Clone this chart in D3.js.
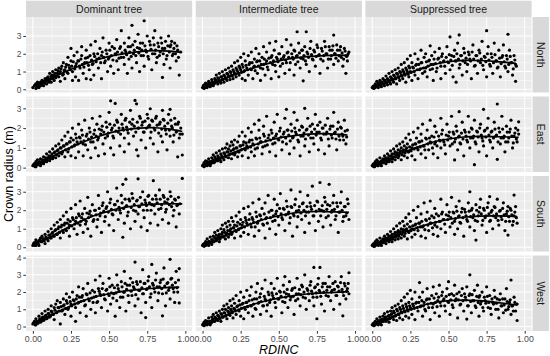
<!DOCTYPE html>
<html>
<head>
<meta charset="utf-8">
<script src="https://cdn.jsdelivr.net/npm/d3@7"></script>
<style>
  body { margin: 0; background: #fff; }
  svg { display: block; font-family: "Liberation Sans", Arial, sans-serif; }
</style>
</head>
<body>
<div class="canvas"></div>
<script>
const colNames = ["Dominant tree", "Intermediate tree", "Suppressed tree"];
const rowNames = ["North", "East", "South", "West"];
const xTicks = [0, 0.25, 0.5, 0.75, 1];
const yTicks = [[0, 1, 2, 3], [0, 1, 2, 3], [0, 1, 2, 3], [0, 1, 2, 3, 4]];
const yLimits = [[-0.18, 4.07], [-0.22, 3.6], [-0.23, 3.85], [-0.26, 4.12]];

// crown radius vs RDINC, one list per panel (scattered trees)
const domNorth = [[.0,.1],[.01,.2],[.02,.05],[.02,.3],[.03,.15],[.03,.4],[.04,.1],[.04,.25],[.05,.4],[.05,.2],[.06,.3],[.06,.5],[.07,.2],[.07,.45],[.08,.35],[.08,.6],[.09,.5],[.09,.3],[.1,.7],[.1,.45],[.11,.55],[.11,.9],[.12,.4],[.12,.75],[.13,.6],[.13,1.0],[.14,.8],[.14,.5],[.15,1.1],[.15,.65],[.16,.9],[.17,.7],[.17,1.2],[.18,1.0],[.18,.45],[.19,1.3],[.2,.85],[.2,1.5],[.21,1.1],[.21,.6],[.22,1.4],[.23,.9],[.23,1.8],[.24,1.2],[.25,2.3],[.25,1.6],[.26,1.0],[.26,.5],[.27,1.9],[.28,1.3],[.28,.7],[.29,2.1],[.3,1.6],[.3,.5],[.31,1.2],[.32,1.9],[.32,2.4],[.33,.9],[.34,1.5],[.35,2.2],[.35,.6],[.36,1.8],[.37,1.1],[.38,2.5],[.38,.55],[.39,1.4],[.4,2.0],[.4,.8],[.41,2.7],[.42,1.7],[.43,1.2],[.44,2.3],[.45,.6],[.45,1.9],[.46,2.9],[.47,1.5],[.48,2.2],[.49,1.0],[.5,2.6],[.5,1.8],[.51,1.3],[.52,2.4],[.53,.9],[.54,2.0],[.55,2.8],[.55,1.6],[.56,1.1],[.57,2.3],[.58,3.3],[.58,1.8],[.6,2.6],[.6,1.4],[.61,2.1],[.62,.9],[.63,2.9],[.63,1.7],[.64,2.4],[.65,3.6],[.65,1.2],[.66,2.0],[.67,2.7],[.68,1.5],[.69,3.1],[.7,2.3],[.7,1.0],[.71,1.9],[.72,2.6],[.73,3.86],[.73,1.3],[.74,2.2],[.75,3.0],[.76,1.7],[.77,2.5],[.78,1.1],[.79,2.9],[.8,2.0],[.8,3.3],[.81,1.5],[.82,2.6],[.83,1.9],[.84,2.9],[.85,.67],[.85,2.3],[.86,1.4],[.87,2.7],[.88,1.9],[.89,3.0],[.9,2.4],[.9,1.2],[.91,2.7],[.92,2.0],[.93,2.6],[.94,1.6],[.95,2.2],[.96,.8],[.97,2.1]];
const intNorth = [[.0,.1],[.01,.05],[.01,.25],[.02,.15],[.02,.35],[.03,.1],[.03,.3],[.04,.2],[.04,.45],[.05,.15],[.05,.35],[.06,.25],[.06,.55],[.07,.4],[.07,.2],[.08,.6],[.08,.35],[.09,.5],[.09,.8],[.1,.3],[.1,.65],[.11,.45],[.11,.9],[.12,.7],[.12,.35],[.13,.55],[.13,1.0],[.14,.8],[.14,.4],[.15,1.1],[.15,.65],[.16,.9],[.16,.5],[.17,1.2],[.17,.75],[.18,1.0],[.18,.55],[.19,1.3],[.19,.8],[.2,1.1],[.2,.6],[.21,1.5],[.21,.9],[.22,1.2],[.22,.7],[.23,1.0],[.23,1.6],[.24,1.3],[.24,.8],[.25,1.8],[.25,1.1],[.26,.6],[.26,1.4],[.27,1.0],[.27,2.0],[.28,1.6],[.28,.5],[.29,1.2],[.3,1.9],[.3,.8],[.31,1.5],[.32,1.1],[.32,2.1],[.33,.6],[.34,1.7],[.34,1.3],[.35,2.3],[.36,.9],[.36,1.6],[.37,2.0],[.38,1.2],[.38,.5],[.39,1.8],[.4,2.4],[.4,1.4],[.41,.8],[.42,2.1],[.42,1.6],[.43,1.1],[.44,2.6],[.45,1.8],[.45,.6],[.46,1.4],[.47,2.2],[.48,1.0],[.48,2.7],[.49,1.7],[.5,2.0],[.5,.7],[.51,1.3],[.52,2.4],[.53,1.8],[.54,.9],[.55,2.8],[.55,1.5],[.56,2.1],[.57,1.1],[.58,2.5],[.59,1.8],[.6,.8],[.6,2.2],[.61,1.4],[.62,3.24],[.62,1.9],[.63,2.6],[.64,1.2],[.65,2.2],[.66,.48],[.66,1.7],[.67,2.4],[.68,3.24],[.68,1.4],[.69,2.0],[.7,1.0],[.71,2.7],[.72,1.7],[.73,2.2],[.74,1.3],[.75,2.5],[.76,1.9],[.77,.9],[.78,2.3],[.79,1.6],[.8,2.7],[.81,2.0],[.82,1.2],[.83,2.4],[.84,1.7],[.85,2.2],[.86,3.05],[.86,1.4],[.87,2.0],[.88,2.5],[.89,1.6],[.9,2.2],[.91,1.8],[.92,1.3],[.93,2.3],[.94,.9],[.94,1.9],[.95,1.6],[.96,2.1]];
const supNorth = [[.0,.1],[.01,.2],[.01,.05],[.02,.3],[.02,.1],[.03,.2],[.03,.45],[.04,.1],[.04,.35],[.05,.25],[.05,.5],[.06,.15],[.06,.4],[.07,.6],[.07,.3],[.08,.2],[.08,.5],[.09,.75],[.09,.35],[.1,.6],[.1,.25],[.11,.45],[.11,.9],[.12,.7],[.12,.3],[.13,.55],[.13,1.0],[.14,.8],[.14,.4],[.15,1.1],[.15,.6],[.16,.9],[.16,.3],[.17,1.2],[.17,.7],[.18,1.0],[.18,.5],[.19,1.4],[.19,.8],[.2,1.1],[.2,.6],[.21,1.5],[.21,.9],[.22,1.2],[.22,.4],[.23,1.7],[.23,1.0],[.24,.7],[.24,1.3],[.25,1.9],[.25,1.0],[.26,.5],[.26,1.5],[.27,1.2],[.28,2.0],[.28,.8],[.29,1.4],[.3,1.7],[.3,.6],[.31,1.1],[.32,2.2],[.32,1.5],[.33,.9],[.34,1.8],[.35,1.2],[.35,2.0],[.36,.7],[.37,1.6],[.38,2.45],[.38,1.1],[.39,1.9],[.4,.5],[.4,1.4],[.41,2.1],[.42,1.0],[.43,1.7],[.44,2.3],[.45,.6],[.45,1.3],[.46,2.0],[.47,1.6],[.48,.9],[.49,2.4],[.5,1.5],[.51,2.95],[.51,1.1],[.52,1.9],[.53,.7],[.54,2.2],[.55,.4],[.55,1.6],[.56,2.6],[.57,3.06],[.57,1.2],[.58,1.9],[.59,.8],[.6,2.3],[.61,1.5],[.62,1.0],[.63,2.1],[.64,1.7],[.65,.6],[.66,2.5],[.67,1.3],[.68,1.9],[.69,.9],[.7,2.2],[.71,1.5],[.72,2.7],[.73,1.1],[.74,1.8],[.75,3.3],[.75,.7],[.76,2.4],[.77,1.4],[.78,2.0],[.79,.9],[.8,2.6],[.81,1.6],[.82,1.2],[.83,2.2],[.84,.7],[.85,1.8],[.86,2.5],[.87,1.3],[.88,1.9],[.89,3.1],[.89,1.0],[.9,2.2],[.91,1.5],[.92,.8],[.93,1.9],[.94,.45],[.94,1.4]];
const domEast = [[.0,.1],[.01,.2],[.02,.05],[.02,.3],[.03,.15],[.03,.4],[.04,.25],[.05,.1],[.05,.45],[.06,.3],[.07,.55],[.07,.2],[.08,.4],[.09,.7],[.09,.3],[.1,.5],[.11,.8],[.11,.35],[.12,.6],[.13,.95],[.13,.45],[.14,.75],[.15,1.1],[.15,.5],[.16,.85],[.17,1.2],[.17,.6],[.18,1.0],[.19,.7],[.19,1.4],[.2,1.1],[.21,.55],[.21,1.6],[.22,1.2],[.23,.8],[.23,1.8],[.24,1.3],[.25,.6],[.25,1.5],[.26,2.0],[.27,1.1],[.28,1.7],[.28,.5],[.29,1.3],[.3,2.2],[.3,.8],[.31,1.5],[.32,1.9],[.33,.6],[.33,1.2],[.34,2.4],[.35,1.6],[.36,.9],[.37,2.0],[.38,1.3],[.38,.5],[.39,2.5],[.4,1.7],[.41,1.0],[.42,2.2],[.43,.6],[.43,1.5],[.44,2.6],[.45,1.9],[.46,1.2],[.47,.7],[.48,2.3],[.49,1.6],[.5,2.8],[.51,3.38],[.51,1.0],[.52,2.0],[.53,.65],[.53,1.5],[.54,3.25],[.55,2.4],[.56,1.8],[.57,1.1],[.58,2.7],[.59,2.0],[.6,.8],[.6,1.5],[.61,2.5],[.62,1.9],[.63,1.2],[.64,2.9],[.65,2.2],[.66,1.6],[.67,3.4],[.68,3.23],[.68,.9],[.69,.6],[.69,2.0],[.7,2.6],[.71,1.4],[.72,2.3],[.73,1.8],[.74,1.0],[.75,2.7],[.76,2.1],[.77,2.98],[.77,1.5],[.78,2.4],[.79,1.2],[.8,1.9],[.81,2.6],[.82,.8],[.83,2.2],[.84,1.6],[.85,2.9],[.85,1.3],[.86,2.4],[.87,1.9],[.88,.9],[.89,2.7],[.9,2.95],[.9,1.6],[.91,2.1],[.92,1.3],[.93,2.5],[.94,1.8],[.95,.55],[.95,2.2],[.96,1.5],[.97,2.0],[.98,.64],[.98,1.7]];
const intEast = [[.0,.1],[.01,.05],[.01,.25],[.02,.15],[.02,.35],[.03,.1],[.03,.3],[.04,.2],[.04,.45],[.05,.3],[.05,.1],[.06,.5],[.06,.25],[.07,.4],[.07,.65],[.08,.3],[.08,.55],[.09,.45],[.09,.75],[.1,.35],[.1,.6],[.11,.85],[.11,.5],[.12,.7],[.12,.3],[.13,.95],[.13,.55],[.14,.75],[.14,.4],[.15,1.0],[.15,.6],[.16,.8],[.16,1.2],[.17,.5],[.17,.95],[.18,1.1],[.18,.7],[.19,1.3],[.19,.45],[.2,.9],[.2,1.15],[.21,.65],[.21,1.4],[.22,1.0],[.23,.55],[.23,1.3],[.24,1.6],[.24,.8],[.25,1.1],[.26,1.8],[.26,.6],[.27,1.3],[.28,.9],[.28,1.6],[.29,1.1],[.3,2.0],[.3,.5],[.31,1.4],[.32,.8],[.32,1.8],[.33,1.2],[.34,2.2],[.34,.6],[.35,1.5],[.36,1.0],[.37,1.9],[.37,2.4],[.38,1.3],[.39,.7],[.4,1.7],[.4,2.1],[.41,1.1],[.42,2.6],[.43,1.5],[.44,.8],[.45,1.9],[.46,1.2],[.47,2.3],[.48,.6],[.48,1.6],[.49,2.7],[.5,1.4],[.51,2.0],[.52,.9],[.53,1.7],[.54,2.5],[.55,1.2],[.55,2.95],[.56,1.9],[.57,.7],[.58,2.2],[.59,1.5],[.6,2.8],[.6,1.0],[.61,1.8],[.62,2.4],[.63,1.3],[.64,.6],[.65,2.1],[.66,1.6],[.67,3.0],[.67,1.1],[.68,1.9],[.69,2.5],[.7,.8],[.71,1.5],[.72,2.2],[.73,1.2],[.74,2.7],[.75,1.8],[.76,.9],[.77,2.3],[.78,1.4],[.79,2.0],[.8,.7],[.81,1.7],[.82,2.5],[.83,1.1],[.84,2.1],[.85,1.5],[.86,2.8],[.87,1.8],[.88,.9],[.89,2.3],[.9,1.4],[.91,2.0],[.92,1.6],[.93,2.4],[.94,1.2],[.95,1.9]];
const supEast = [[.0,.1],[.01,.2],[.01,.05],[.02,.3],[.02,.1],[.03,.2],[.03,.4],[.04,.1],[.04,.3],[.05,.5],[.05,.2],[.06,.35],[.06,.1],[.07,.45],[.07,.25],[.08,.6],[.08,.35],[.09,.2],[.09,.5],[.1,.7],[.1,.4],[.11,.3],[.11,.6],[.12,.85],[.12,.45],[.13,.7],[.13,.3],[.14,.95],[.14,.55],[.15,.8],[.15,.4],[.16,1.1],[.16,.65],[.17,.9],[.17,.5],[.18,1.2],[.18,.75],[.19,1.0],[.19,.4],[.2,1.3],[.2,.8],[.21,.6],[.21,1.1],[.22,1.5],[.22,.9],[.23,.5],[.23,1.2],[.24,1.7],[.24,.8],[.25,1.4],[.26,1.0],[.26,.6],[.27,1.8],[.28,1.2],[.28,.4],[.29,1.5],[.3,.9],[.3,2.0],[.31,1.3],[.32,.7],[.32,1.7],[.33,2.2],[.34,1.1],[.35,1.5],[.35,.5],[.36,1.9],[.37,.9],[.38,1.3],[.38,2.4],[.39,1.6],[.4,.7],[.41,2.1],[.41,1.2],[.42,1.8],[.43,.5],[.44,1.4],[.45,2.5],[.45,1.0],[.46,1.9],[.47,1.3],[.48,.7],[.49,2.2],[.5,1.6],[.51,1.1],[.52,2.6],[.53,1.8],[.54,.39],[.54,1.3],[.55,2.1],[.56,.9],[.57,2.83],[.57,1.6],[.58,1.2],[.59,2.3],[.6,.6],[.61,1.8],[.62,1.4],[.63,2.6],[.64,1.0],[.65,2.0],[.66,1.5],[.67,.15],[.67,2.4],[.68,1.2],[.69,1.8],[.7,.8],[.71,2.2],[.72,1.5],[.73,2.95],[.73,1.1],[.74,1.9],[.75,.6],[.76,2.5],[.77,1.4],[.78,1.8],[.79,1.0],[.8,2.3],[.81,1.6],[.82,3.22],[.82,.42],[.83,2.0],[.84,1.2],[.85,2.6],[.86,1.5],[.87,.8],[.88,2.1],[.89,1.3],[.9,1.8],[.91,2.4],[.92,1.0],[.93,1.6],[.94,2.0],[.95,1.3],[.96,2.32],[.96,1.7]];
const domSouth = [[.0,.1],[.01,.25],[.02,.1],[.02,.4],[.03,.2],[.04,.35],[.04,.1],[.05,.5],[.06,.3],[.06,.6],[.07,.45],[.08,.2],[.08,.7],[.09,.5],[.1,.85],[.1,.35],[.11,.65],[.12,1.0],[.12,.5],[.13,.8],[.14,1.2],[.14,.6],[.15,.95],[.16,1.35],[.16,.7],[.17,1.1],[.18,.5],[.18,1.5],[.19,1.2],[.2,.8],[.2,1.7],[.21,1.3],[.22,.9],[.22,1.9],[.23,1.5],[.24,.6],[.24,1.2],[.25,2.1],[.26,1.6],[.27,1.0],[.28,2.3],[.28,1.4],[.29,.7],[.3,1.8],[.31,2.5],[.31,1.2],[.32,1.6],[.33,.8],[.34,2.1],[.35,1.4],[.36,2.7],[.36,1.0],[.37,1.8],[.38,.6],[.39,2.3],[.4,1.5],[.41,2.0],[.42,1.1],[.43,2.8],[.44,1.7],[.45,.8],[.46,2.4],[.47,1.4],[.48,2.1],[.49,3.0],[.5,1.2],[.51,2.6],[.52,1.8],[.53,.9],[.54,2.3],[.55,3.2],[.56,1.5],[.57,2.0],[.58,2.8],[.59,.54],[.59,3.4],[.6,1.3],[.61,3.68],[.61,2.2],[.62,1.7],[.63,2.6],[.64,1.0],[.65,2.9],[.66,2.0],[.67,1.4],[.68,2.5],[.69,3.7],[.69,1.8],[.7,2.2],[.71,1.1],[.72,3.0],[.73,1.6],[.74,2.4],[.75,.9],[.75,2.0],[.76,2.8],[.77,1.3],[.78,2.3],[.79,3.6],[.8,1.8],[.81,2.6],[.82,1.2],[.83,3.1],[.84,2.1],[.85,1.5],[.86,2.7],[.87,1.9],[.88,2.4],[.89,1.3],[.9,3.0],[.91,2.2],[.92,1.7],[.93,2.6],[.94,1.1],[.95,2.3],[.96,1.8],[.98,3.72]];
const intSouth = [[.0,.1],[.01,.2],[.01,.05],[.02,.3],[.02,.1],[.03,.2],[.03,.45],[.04,.3],[.04,.1],[.05,.55],[.05,.25],[.06,.4],[.06,.15],[.07,.6],[.07,.3],[.08,.5],[.08,.8],[.09,.35],[.09,.65],[.1,.9],[.1,.5],[.11,.7],[.11,.3],[.12,1.0],[.12,.55],[.13,.8],[.13,1.2],[.14,.6],[.14,.95],[.15,1.3],[.15,.45],[.16,1.1],[.16,.75],[.17,1.4],[.17,.55],[.18,.9],[.18,1.2],[.19,1.6],[.19,.7],[.2,1.05],[.2,1.4],[.21,.5],[.21,1.2],[.22,1.7],[.22,.85],[.23,1.35],[.24,1.0],[.24,1.9],[.25,.6],[.25,1.5],[.26,1.2],[.27,2.1],[.27,.8],[.28,1.6],[.29,1.3],[.3,2.2],[.3,.7],[.31,1.8],[.32,1.1],[.33,2.4],[.33,1.5],[.34,.6],[.35,1.9],[.36,1.3],[.37,2.6],[.37,.9],[.38,1.7],[.39,2.1],[.4,1.2],[.41,.5],[.41,2.4],[.42,1.6],[.43,2.8],[.44,1.0],[.45,2.0],[.46,1.4],[.47,2.6],[.48,.7],[.48,1.8],[.49,2.3],[.5,1.2],[.51,2.9],[.52,1.6],[.53,2.1],[.54,.9],[.55,2.5],[.56,1.8],[.57,1.3],[.58,3.1],[.58,2.2],[.59,.6],[.6,1.7],[.61,2.6],[.62,1.1],[.63,2.0],[.64,3.0],[.65,1.5],[.66,2.4],[.67,.8],[.68,1.9],[.69,2.8],[.7,1.3],[.71,2.2],[.72,3.3],[.73,1.7],[.74,.9],[.75,2.5],[.76,1.4],[.77,3.5],[.78,2.0],[.79,1.1],[.8,2.7],[.81,1.6],[.82,2.3],[.83,3.4],[.84,1.2],[.85,2.0],[.86,2.8],[.87,1.5],[.88,2.4],[.89,.8],[.9,1.9],[.91,3.0],[.92,1.4],[.93,2.2],[.94,1.7],[.95,2.6],[.96,1.5]];
const supSouth = [[.0,.1],[.01,.2],[.01,.05],[.02,.3],[.02,.1],[.03,.2],[.03,.4],[.04,.1],[.04,.3],[.05,.5],[.05,.2],[.06,.35],[.06,.1],[.07,.45],[.07,.25],[.08,.6],[.08,.35],[.09,.2],[.09,.5],[.1,.7],[.1,.4],[.11,.3],[.11,.6],[.12,.85],[.12,.45],[.13,.7],[.13,.3],[.14,1.0],[.14,.55],[.15,.8],[.15,.4],[.16,1.15],[.16,.65],[.17,.9],[.17,.45],[.18,1.3],[.18,.75],[.19,1.0],[.19,.5],[.2,1.4],[.2,.85],[.21,.6],[.21,1.15],[.22,1.6],[.22,.9],[.23,.45],[.23,1.25],[.24,1.8],[.24,.8],[.25,1.4],[.26,1.0],[.26,.55],[.27,2.0],[.28,1.2],[.28,.7],[.29,1.6],[.3,.9],[.3,2.2],[.31,1.3],[.32,.6],[.32,1.8],[.33,1.1],[.34,2.4],[.35,1.5],[.35,.5],[.36,1.9],[.37,.9],[.38,1.3],[.38,2.5],[.39,1.7],[.4,.7],[.41,2.1],[.41,1.2],[.42,1.8],[.43,.6],[.44,1.4],[.45,2.6],[.45,1.0],[.46,1.9],[.47,1.5],[.48,.8],[.49,2.3],[.5,1.7],[.51,1.1],[.52,2.7],[.53,1.9],[.54,.7],[.54,1.4],[.55,2.2],[.56,1.0],[.57,2.5],[.57,1.7],[.58,1.3],[.59,2.1],[.6,.6],[.61,1.9],[.62,1.5],[.63,2.4],[.64,3.0],[.64,1.1],[.65,2.0],[.66,1.6],[.67,.9],[.68,.39],[.68,2.3],[.69,1.4],[.7,1.9],[.71,2.6],[.72,1.2],[.73,2.1],[.74,1.6],[.75,.8],[.76,2.4],[.77,2.74],[.77,1.4],[.78,1.9],[.79,1.0],[.8,2.2],[.81,1.6],[.82,2.6],[.83,1.2],[.84,2.0],[.85,1.5],[.86,2.4],[.87,.9],[.88,1.8],[.89,.66],[.89,2.2],[.9,1.4],[.91,2.0],[.92,1.2],[.93,2.82],[.93,1.7],[.94,2.2],[.95,1.3]];
const domWest = [[.0,.15],[.01,.3],[.02,.1],[.02,.45],[.03,.2],[.04,.35],[.04,.6],[.05,.25],[.06,.5],[.06,.75],[.07,.35],[.08,.6],[.08,.9],[.09,.45],[.1,.75],[.1,1.0],[.11,.55],[.12,.9],[.12,1.2],[.13,.7],[.14,1.1],[.14,.4],[.15,1.3],[.16,.85],[.16,1.5],[.17,1.1],[.18,.15],[.18,1.4],[.19,.9],[.2,1.6],[.2,1.2],[.21,.7],[.22,1.5],[.22,1.9],[.23,1.0],[.24,1.7],[.25,1.3],[.25,.6],[.26,2.0],[.27,1.5],[.28,.3],[.28,1.1],[.29,1.8],[.3,2.3],[.3,1.4],[.31,.8],[.32,1.7],[.33,2.2],[.34,1.2],[.35,1.9],[.35,.6],[.36,2.5],[.37,1.5],[.38,1.0],[.39,2.1],[.4,1.7],[.41,2.7],[.41,.8],[.42,1.4],[.43,2.2],[.44,2.93],[.44,1.9],[.45,1.1],[.46,2.5],[.47,1.6],[.48,2.1],[.49,.9],[.5,2.8],[.5,1.8],[.51,1.3],[.52,2.4],[.53,1.9],[.54,.6],[.55,3.0],[.55,1.5],[.56,2.2],[.57,1.1],[.58,2.6],[.59,1.7],[.6,3.2],[.6,2.0],[.61,.9],[.62,2.4],[.63,1.4],[.64,2.8],[.65,1.8],[.66,2.3],[.67,3.74],[.67,1.2],[.68,2.6],[.69,1.6],[.7,2.1],[.71,.8],[.72,3.3],[.72,1.9],[.73,2.5],[.74,.52],[.74,1.4],[.75,2.2],[.76,2.9],[.77,1.7],[.78,3.6],[.78,1.1],[.79,2.4],[.8,2.0],[.81,3.1],[.82,1.5],[.83,2.3],[.84,2.7],[.85,.62],[.85,1.9],[.86,3.4],[.87,1.2],[.88,2.5],[.89,2.1],[.9,3.9],[.9,1.6],[.91,2.8],[.92,2.2],[.93,1.4],[.94,3.2],[.95,2.0],[.96,3.36],[.96,1.37]];
const intWest = [[.0,.1],[.01,.05],[.01,.25],[.02,.15],[.02,.35],[.03,.1],[.03,.3],[.04,.2],[.04,.5],[.05,.3],[.05,.1],[.06,.55],[.06,.25],[.07,.4],[.07,.7],[.08,.3],[.08,.55],[.09,.45],[.09,.8],[.1,.35],[.1,.65],[.11,.9],[.11,.5],[.12,.75],[.12,.3],[.13,1.0],[.13,.55],[.14,.8],[.14,1.2],[.15,.6],[.15,1.0],[.16,1.3],[.16,.45],[.17,.85],[.17,1.1],[.18,1.5],[.18,.65],[.19,1.2],[.19,.9],[.2,1.6],[.2,.5],[.21,1.0],[.21,1.35],[.22,1.8],[.22,.7],[.23,1.2],[.24,1.5],[.24,.9],[.25,2.0],[.25,.6],[.26,1.3],[.27,1.7],[.27,.45],[.28,1.0],[.29,2.1],[.29,1.4],[.3,.8],[.31,1.8],[.32,1.2],[.32,2.3],[.33,.6],[.34,1.6],[.35,2.0],[.35,1.0],[.36,2.5],[.37,1.4],[.38,.7],[.38,1.9],[.39,2.2],[.4,1.2],[.41,2.7],[.41,1.6],[.42,.9],[.43,2.0],[.44,1.4],[.45,2.5],[.45,.6],[.46,1.8],[.47,2.2],[.48,1.1],[.49,2.8],[.5,1.6],[.51,2.0],[.52,.8],[.53,2.4],[.54,2.9],[.54,1.4],[.55,1.9],[.56,1.1],[.57,2.6],[.58,1.7],[.59,2.2],[.6,.7],[.61,1.5],[.62,2.8],[.63,1.9],[.64,1.2],[.65,2.4],[.66,1.7],[.67,3.0],[.68,1.0],[.69,2.1],[.7,1.5],[.71,2.6],[.72,1.9],[.73,3.43],[.73,1.2],[.74,2.3],[.75,.45],[.75,1.7],[.76,2.8],[.77,3.43],[.77,2.0],[.78,1.3],[.79,2.5],[.8,.9],[.81,1.8],[.82,2.3],[.83,2.9],[.84,1.5],[.85,2.1],[.86,1.0],[.87,2.6],[.88,1.8],[.89,2.3],[.9,1.3],[.91,2.9],[.92,.62],[.92,2.0],[.93,2.5],[.94,1.6],[.95,2.2],[.96,3.12],[.96,1.9]];
const supWest = [[.0,.1],[.01,.2],[.01,.05],[.02,.3],[.02,.1],[.03,.2],[.03,.45],[.04,.1],[.04,.3],[.05,.55],[.05,.2],[.06,.4],[.06,.1],[.07,.6],[.07,.3],[.08,.45],[.08,.75],[.09,.3],[.09,.55],[.1,.85],[.1,.4],[.11,.65],[.11,.25],[.12,.9],[.12,.5],[.13,.75],[.13,1.1],[.14,.4],[.14,.9],[.15,1.2],[.15,.6],[.16,1.0],[.16,.35],[.17,1.3],[.17,.7],[.18,1.1],[.18,.5],[.19,1.5],[.19,.85],[.2,1.2],[.2,.4],[.21,1.7],[.21,.9],[.22,1.3],[.22,.6],[.23,1.9],[.23,1.0],[.24,1.4],[.24,.5],[.25,2.1],[.25,1.1],[.26,.7],[.26,1.6],[.27,1.2],[.28,2.0],[.28,.4],[.29,1.4],[.3,.9],[.31,2.55],[.31,1.7],[.32,1.2],[.33,.6],[.33,2.0],[.34,1.4],[.35,.9],[.36,2.2],[.36,1.6],[.37,1.1],[.38,.4],[.39,1.8],[.4,2.3],[.4,1.3],[.41,.8],[.42,1.9],[.43,1.5],[.44,2.4],[.44,.6],[.45,1.2],[.46,2.0],[.47,1.6],[.48,.9],[.49,2.2],[.5,2.6],[.5,1.4],[.51,.7],[.52,1.9],[.53,1.1],[.54,2.4],[.55,1.6],[.56,.5],[.57,2.0],[.58,1.3],[.59,2.2],[.6,.9],[.61,1.7],[.62,.43],[.62,2.3],[.63,1.2],[.64,3.0],[.64,1.9],[.65,.8],[.66,1.5],[.67,2.1],[.68,1.1],[.69,2.4],[.7,.6],[.7,1.7],[.71,1.3],[.72,2.0],[.73,.9],[.74,1.5],[.75,2.3],[.76,1.1],[.77,1.8],[.78,.7],[.79,1.4],[.8,2.1],[.81,1.0],[.82,1.6],[.83,.5],[.84,1.9],[.85,1.2],[.86,.8],[.87,1.6],[.88,2.2],[.89,1.0],[.9,1.4],[.91,2.7],[.91,.7],[.92,1.2],[.93,1.7],[.94,.9],[.95,.35],[.95,1.3]];

// trees in the dense band around the fitted curve
const domNorthCore = [[.015,.25],[.025,.1],[.035,.35],[.045,.2],[.055,.3],[.065,.45],[.075,.35],[.085,.5],[.095,.65],[.105,.4],[.115,.6],[.125,.8],[.135,.7],[.145,.9],[.155,.75],[.165,1.05],[.175,.9],[.185,1.15],[.195,.8],[.205,1.05],[.215,1.25],[.225,.95],[.235,1.35],[.245,1.1],[.255,1.3],[.265,1.55],[.275,1.15],[.285,1.45],[.295,1.6],[.305,1.3],[.315,1.7],[.325,1.4],[.335,1.25],[.345,1.75],[.355,1.5],[.365,1.35],[.375,1.9],[.385,1.65],[.395,1.45],[.405,1.85],[.415,1.55],[.425,2.0],[.435,1.75],[.445,1.5],[.455,2.1],[.465,1.8],[.475,1.6],[.485,2.0],[.495,1.7],[.505,2.2],[.515,1.9],[.525,1.65],[.535,2.3],[.545,1.95],[.555,2.1],[.565,1.75],[.575,2.4],[.585,2.05],[.595,1.8],[.605,2.2],[.615,1.95],[.625,2.4],[.635,2.1],[.645,1.85],[.655,2.5],[.665,2.2],[.675,1.9],[.685,2.35],[.695,2.05],[.705,2.6],[.715,2.2],[.725,1.9],[.735,2.45],[.745,2.1],[.755,1.85],[.765,2.7],[.775,2.25],[.785,2.0],[.795,2.5],[.805,2.2],[.815,1.8],[.825,2.4],[.835,2.1],[.845,2.6],[.855,2.0],[.865,2.3],[.875,1.7],[.885,2.45],[.895,2.1],[.905,2.5],[.915,1.9],[.925,2.3],[.935,2.0],[.945,2.45],[.955,1.8]];
const intNorthCore = [[.005,.2],[.015,.1],[.025,.3],[.035,.2],[.045,.35],[.055,.25],[.065,.4],[.075,.3],[.085,.5],[.095,.4],[.105,.6],[.115,.45],[.125,.7],[.135,.55],[.145,.75],[.155,.6],[.165,.85],[.175,.7],[.185,.95],[.195,.75],[.205,1.0],[.215,.85],[.225,1.1],[.235,.9],[.245,1.2],[.255,.95],[.265,1.25],[.275,1.05],[.285,1.35],[.295,1.1],[.305,1.4],[.315,1.15],[.325,1.5],[.335,1.25],[.345,1.05],[.355,1.55],[.365,1.3],[.375,1.6],[.385,1.4],[.395,1.15],[.405,1.7],[.415,1.45],[.425,1.25],[.435,1.75],[.445,1.5],[.455,1.9],[.465,1.6],[.475,1.35],[.485,1.8],[.495,1.55],[.505,2.0],[.515,1.7],[.525,1.45],[.535,1.9],[.545,1.65],[.555,2.05],[.565,1.8],[.575,1.5],[.585,2.0],[.595,1.7],[.605,2.15],[.615,1.85],[.625,1.55],[.635,2.05],[.645,1.75],[.655,2.2],[.665,1.9],[.675,1.6],[.685,2.1],[.695,1.8],[.705,2.3],[.715,1.95],[.725,1.65],[.735,2.1],[.745,1.85],[.755,2.35],[.765,1.95],[.775,1.7],[.785,2.15],[.795,1.9],[.805,2.4],[.815,2.0],[.825,1.7],[.835,2.2],[.845,1.9],[.855,2.45],[.865,2.0],[.875,1.75],[.885,2.2],[.895,1.9],[.905,2.4],[.915,2.05],[.925,1.7],[.935,2.15],[.945,1.85],[.955,2.0]];
const supNorthCore = [[.005,.15],[.015,.1],[.025,.25],[.035,.15],[.045,.3],[.055,.2],[.065,.4],[.075,.3],[.085,.5],[.095,.35],[.105,.55],[.115,.4],[.125,.65],[.135,.5],[.145,.75],[.155,.6],[.165,.85],[.175,.65],[.185,.95],[.195,.75],[.205,1.0],[.215,.8],[.225,1.1],[.235,.85],[.245,1.2],[.255,.95],[.265,1.25],[.275,1.0],[.285,1.35],[.295,1.1],[.305,1.4],[.315,1.15],[.325,1.5],[.335,1.2],[.345,1.0],[.355,1.55],[.365,1.3],[.375,1.65],[.385,1.4],[.395,1.15],[.405,1.7],[.415,1.45],[.425,1.2],[.435,1.75],[.445,1.5],[.455,1.85],[.465,1.55],[.475,1.3],[.485,1.8],[.495,1.55],[.505,1.95],[.515,1.65],[.525,1.35],[.535,1.85],[.545,1.6],[.555,2.0],[.565,1.7],[.575,1.4],[.585,1.9],[.595,1.6],[.605,2.05],[.615,1.75],[.625,1.4],[.635,1.95],[.645,1.6],[.655,2.1],[.665,1.7],[.675,1.35],[.685,1.9],[.695,1.6],[.705,2.05],[.715,1.7],[.725,1.35],[.735,1.85],[.745,1.55],[.755,2.0],[.765,1.65],[.775,1.3],[.785,1.8],[.795,1.5],[.805,1.95],[.815,1.6],[.825,1.25],[.835,1.75],[.845,1.45],[.855,1.9],[.865,1.55],[.875,1.2],[.885,1.7],[.895,1.4],[.905,1.85],[.915,1.5],[.925,1.15],[.935,1.65],[.945,1.3]];
const domEastCore = [[.005,.15],[.015,.05],[.025,.25],[.035,.15],[.045,.3],[.055,.2],[.065,.4],[.075,.3],[.085,.5],[.095,.4],[.105,.6],[.115,.45],[.125,.7],[.135,.55],[.145,.8],[.155,.65],[.165,.9],[.175,.75],[.185,1.0],[.195,.8],[.205,1.1],[.215,.9],[.225,1.2],[.235,.95],[.245,1.3],[.255,1.05],[.265,1.4],[.275,1.15],[.285,1.5],[.295,1.2],[.305,1.55],[.315,1.3],[.325,1.65],[.335,1.35],[.345,1.15],[.355,1.7],[.365,1.45],[.375,1.8],[.385,1.55],[.395,1.3],[.405,1.9],[.415,1.6],[.425,1.4],[.435,1.95],[.445,1.7],[.455,2.1],[.465,1.8],[.475,1.5],[.485,2.05],[.495,1.75],[.505,2.2],[.515,1.9],[.525,1.6],[.535,2.15],[.545,1.85],[.555,2.3],[.565,2.0],[.575,1.7],[.585,2.2],[.595,1.9],[.605,2.4],[.615,2.05],[.625,1.75],[.635,2.3],[.645,1.95],[.655,2.45],[.665,2.1],[.675,1.8],[.685,2.3],[.695,2.0],[.705,2.5],[.715,2.15],[.725,1.8],[.735,2.35],[.745,2.0],[.755,2.5],[.765,2.15],[.775,1.8],[.785,2.35],[.795,2.0],[.805,2.5],[.815,2.15],[.825,1.75],[.835,2.3],[.845,1.95],[.855,2.45],[.865,2.1],[.875,1.7],[.885,2.25],[.895,1.9],[.905,2.4],[.915,2.0],[.925,1.65],[.935,2.2],[.945,1.85],[.955,2.3],[.965,1.7]];
const intEastCore = [[.005,.15],[.015,.1],[.025,.2],[.035,.15],[.045,.3],[.055,.2],[.065,.35],[.075,.25],[.085,.45],[.095,.35],[.105,.5],[.115,.4],[.125,.6],[.135,.5],[.145,.7],[.155,.55],[.165,.8],[.175,.65],[.185,.85],[.195,.7],[.205,.95],[.215,.75],[.225,1.0],[.235,.8],[.245,1.1],[.255,.9],[.265,1.15],[.275,.95],[.285,1.25],[.295,1.0],[.305,1.3],[.315,1.05],[.325,1.4],[.335,1.15],[.345,.95],[.355,1.45],[.365,1.2],[.375,1.5],[.385,1.3],[.395,1.05],[.405,1.6],[.415,1.35],[.425,1.15],[.435,1.65],[.445,1.4],[.455,1.75],[.465,1.5],[.475,1.25],[.485,1.7],[.495,1.45],[.505,1.85],[.515,1.55],[.525,1.3],[.535,1.8],[.545,1.5],[.555,1.9],[.565,1.65],[.575,1.35],[.585,1.85],[.595,1.55],[.605,2.0],[.615,1.7],[.625,1.4],[.635,1.9],[.645,1.6],[.655,2.05],[.665,1.75],[.675,1.45],[.685,1.95],[.695,1.65],[.705,2.1],[.715,1.8],[.725,1.5],[.735,1.95],[.745,1.65],[.755,2.15],[.765,1.8],[.775,1.5],[.785,2.0],[.795,1.7],[.805,2.15],[.815,1.8],[.825,1.45],[.835,1.95],[.845,1.65],[.855,2.1],[.865,1.75],[.875,1.45],[.885,1.95],[.895,1.6],[.905,2.05],[.915,1.7],[.925,1.4],[.935,1.85],[.945,1.55]];
const supEastCore = [[.005,.15],[.015,.05],[.025,.2],[.035,.1],[.045,.25],[.055,.2],[.065,.35],[.075,.25],[.085,.45],[.095,.3],[.105,.5],[.115,.4],[.125,.6],[.135,.45],[.145,.7],[.155,.55],[.165,.75],[.175,.6],[.185,.85],[.195,.65],[.205,.9],[.215,.75],[.225,1.0],[.235,.8],[.245,1.05],[.255,.85],[.265,1.15],[.275,.95],[.285,1.2],[.295,1.0],[.305,1.3],[.315,1.05],[.325,1.35],[.335,1.1],[.345,.9],[.355,1.45],[.365,1.2],[.375,1.5],[.385,1.25],[.395,1.0],[.405,1.55],[.415,1.3],[.425,1.1],[.435,1.6],[.445,1.35],[.455,1.7],[.465,1.4],[.475,1.15],[.485,1.65],[.495,1.4],[.505,1.8],[.515,1.5],[.525,1.2],[.535,1.7],[.545,1.45],[.555,1.85],[.565,1.55],[.575,1.25],[.585,1.75],[.595,1.45],[.605,1.9],[.615,1.6],[.625,1.3],[.635,1.8],[.645,1.5],[.655,1.95],[.665,1.6],[.675,1.3],[.685,1.85],[.695,1.55],[.705,2.0],[.715,1.65],[.725,1.35],[.735,1.85],[.745,1.55],[.755,2.0],[.765,1.65],[.775,1.3],[.785,1.85],[.795,1.5],[.805,1.95],[.815,1.65],[.825,1.3],[.835,1.8],[.845,1.5],[.855,1.95],[.865,1.6],[.875,1.3],[.885,1.8],[.895,1.5],[.905,1.95],[.915,1.6],[.925,1.25],[.935,1.75],[.945,1.45],[.955,1.9]];
const domSouthCore = [[.005,.2],[.015,.1],[.025,.3],[.035,.2],[.045,.4],[.055,.3],[.065,.45],[.075,.35],[.085,.55],[.095,.45],[.105,.65],[.115,.5],[.125,.75],[.135,.6],[.145,.9],[.155,.7],[.165,1.0],[.175,.8],[.185,1.1],[.195,.9],[.205,1.2],[.215,.95],[.225,1.3],[.235,1.05],[.245,1.4],[.255,1.15],[.265,1.5],[.275,1.25],[.285,1.6],[.295,1.3],[.305,1.7],[.315,1.4],[.325,1.8],[.335,1.5],[.345,1.25],[.355,1.85],[.365,1.6],[.375,1.95],[.385,1.7],[.395,1.4],[.405,2.0],[.415,1.75],[.425,1.5],[.435,2.1],[.445,1.85],[.455,2.25],[.465,1.95],[.475,1.65],[.485,2.2],[.495,1.9],[.505,2.4],[.515,2.05],[.525,1.75],[.535,2.3],[.545,2.0],[.555,2.5],[.565,2.15],[.575,1.85],[.585,2.4],[.595,2.1],[.605,2.6],[.615,2.25],[.625,1.9],[.635,2.5],[.645,2.15],[.655,2.65],[.665,2.3],[.675,1.95],[.685,2.55],[.695,2.2],[.705,2.7],[.715,2.35],[.725,2.0],[.735,2.55],[.745,2.25],[.755,2.75],[.765,2.4],[.775,2.0],[.785,2.6],[.795,2.25],[.805,2.8],[.815,2.4],[.825,2.05],[.835,2.6],[.845,2.3],[.855,2.8],[.865,2.45],[.875,2.05],[.885,2.6],[.895,2.3],[.905,2.75],[.915,2.4],[.925,2.0],[.935,2.55],[.945,2.25],[.955,2.7],[.965,2.35]];
const intSouthCore = [[.005,.15],[.015,.1],[.025,.25],[.035,.15],[.045,.3],[.055,.25],[.065,.4],[.075,.3],[.085,.5],[.095,.4],[.105,.6],[.115,.45],[.125,.7],[.135,.55],[.145,.8],[.155,.65],[.165,.9],[.175,.7],[.185,1.0],[.195,.8],[.205,1.05],[.215,.9],[.225,1.15],[.235,.95],[.245,1.25],[.255,1.05],[.265,1.35],[.275,1.1],[.285,1.45],[.295,1.2],[.305,1.5],[.315,1.25],[.325,1.6],[.335,1.35],[.345,1.1],[.355,1.65],[.365,1.4],[.375,1.75],[.385,1.5],[.395,1.25],[.405,1.8],[.415,1.55],[.425,1.3],[.435,1.9],[.445,1.6],[.455,2.0],[.465,1.7],[.475,1.45],[.485,1.95],[.495,1.65],[.505,2.1],[.515,1.8],[.525,1.5],[.535,2.05],[.545,1.75],[.555,2.2],[.565,1.9],[.575,1.6],[.585,2.15],[.595,1.8],[.605,2.3],[.615,1.95],[.625,1.65],[.635,2.2],[.645,1.85],[.655,2.35],[.665,2.0],[.675,1.7],[.685,2.2],[.695,1.9],[.705,2.4],[.715,2.05],[.725,1.7],[.735,2.25],[.745,1.95],[.755,2.45],[.765,2.05],[.775,1.7],[.785,2.25],[.795,1.95],[.805,2.45],[.815,2.05],[.825,1.7],[.835,2.25],[.845,1.9],[.855,2.4],[.865,2.05],[.875,1.7],[.885,2.2],[.895,1.9],[.905,2.4],[.915,2.0],[.925,1.65],[.935,2.2],[.945,1.85],[.955,2.35]];
const supSouthCore = [[.005,.15],[.015,.05],[.025,.2],[.035,.15],[.045,.25],[.055,.2],[.065,.35],[.075,.25],[.085,.45],[.095,.35],[.105,.5],[.115,.4],[.125,.6],[.135,.45],[.145,.7],[.155,.55],[.165,.8],[.175,.6],[.185,.85],[.195,.7],[.205,.95],[.215,.75],[.225,1.0],[.235,.85],[.245,1.1],[.255,.9],[.265,1.15],[.275,.95],[.285,1.25],[.295,1.05],[.305,1.3],[.315,1.1],[.325,1.4],[.335,1.15],[.345,.95],[.355,1.45],[.365,1.2],[.375,1.55],[.385,1.3],[.395,1.05],[.405,1.6],[.415,1.35],[.425,1.1],[.435,1.7],[.445,1.4],[.455,1.8],[.465,1.5],[.475,1.25],[.485,1.75],[.495,1.5],[.505,1.9],[.515,1.6],[.525,1.3],[.535,1.85],[.545,1.55],[.555,1.95],[.565,1.65],[.575,1.35],[.585,1.9],[.595,1.6],[.605,2.05],[.615,1.7],[.625,1.4],[.635,1.95],[.645,1.65],[.655,2.1],[.665,1.75],[.675,1.45],[.685,2.0],[.695,1.7],[.705,2.15],[.715,1.8],[.725,1.45],[.735,2.0],[.745,1.7],[.755,2.15],[.765,1.8],[.775,1.45],[.785,2.0],[.795,1.7],[.805,2.15],[.815,1.8],[.825,1.45],[.835,1.95],[.845,1.65],[.855,2.1],[.865,1.75],[.875,1.4],[.885,1.95],[.895,1.65],[.905,2.1],[.915,1.75],[.925,1.4],[.935,1.9],[.945,1.6]];
const domWestCore = [[.005,.2],[.015,.1],[.025,.3],[.035,.2],[.045,.45],[.055,.3],[.065,.55],[.075,.4],[.085,.65],[.095,.5],[.105,.75],[.115,.6],[.125,.85],[.135,.7],[.145,.95],[.155,.8],[.165,1.1],[.175,.9],[.185,1.15],[.195,.95],[.205,1.25],[.215,1.05],[.225,1.35],[.235,1.1],[.245,1.45],[.255,1.2],[.265,1.55],[.275,1.3],[.285,1.6],[.295,1.35],[.305,1.7],[.315,1.45],[.325,1.8],[.335,1.5],[.345,1.25],[.355,1.85],[.365,1.6],[.375,1.95],[.385,1.65],[.395,1.4],[.405,2.0],[.415,1.75],[.425,1.45],[.435,2.05],[.445,1.8],[.455,2.2],[.465,1.85],[.475,1.55],[.485,2.15],[.495,1.9],[.505,2.3],[.515,1.95],[.525,1.65],[.535,2.25],[.545,1.95],[.555,2.4],[.565,2.05],[.575,1.7],[.585,2.3],[.595,2.0],[.605,2.5],[.615,2.15],[.625,1.8],[.635,2.4],[.645,2.05],[.655,2.55],[.665,2.2],[.675,1.85],[.685,2.45],[.695,2.1],[.705,2.6],[.715,2.25],[.725,1.9],[.735,2.5],[.745,2.15],[.755,2.65],[.765,2.3],[.775,1.9],[.785,2.5],[.795,2.2],[.805,2.7],[.815,2.3],[.825,1.95],[.835,2.55],[.845,2.2],[.855,2.75],[.865,2.35],[.875,1.95],[.885,2.55],[.895,2.25],[.905,2.75],[.915,2.4],[.925,2.0],[.935,2.55],[.945,2.25],[.955,2.7]];
const intWestCore = [[.005,.15],[.015,.1],[.025,.25],[.035,.15],[.045,.3],[.055,.2],[.065,.4],[.075,.3],[.085,.5],[.095,.4],[.105,.6],[.115,.45],[.125,.7],[.135,.55],[.145,.8],[.155,.65],[.165,.9],[.175,.7],[.185,1.0],[.195,.8],[.205,1.05],[.215,.9],[.225,1.15],[.235,.95],[.245,1.25],[.255,1.05],[.265,1.35],[.275,1.1],[.285,1.4],[.295,1.15],[.305,1.5],[.315,1.2],[.325,1.55],[.335,1.3],[.345,1.05],[.355,1.6],[.365,1.35],[.375,1.7],[.385,1.45],[.395,1.2],[.405,1.75],[.415,1.5],[.425,1.25],[.435,1.85],[.445,1.55],[.455,1.95],[.465,1.65],[.475,1.4],[.485,1.9],[.495,1.6],[.505,2.05],[.515,1.75],[.525,1.45],[.535,2.0],[.545,1.7],[.555,2.15],[.565,1.85],[.575,1.55],[.585,2.1],[.595,1.75],[.605,2.25],[.615,1.9],[.625,1.6],[.635,2.15],[.645,1.85],[.655,2.3],[.665,2.0],[.675,1.65],[.685,2.2],[.695,1.9],[.705,2.4],[.715,2.05],[.725,1.7],[.735,2.25],[.745,1.95],[.755,2.45],[.765,2.1],[.775,1.75],[.785,2.3],[.795,2.0],[.805,2.5],[.815,2.1],[.825,1.75],[.835,2.3],[.845,2.0],[.855,2.5],[.865,2.15],[.875,1.8],[.885,2.35],[.895,2.05],[.905,2.55],[.915,2.15],[.925,1.8],[.935,2.35],[.945,2.05],[.955,2.5]];
const supWestCore = [[.005,.15],[.015,.1],[.025,.25],[.035,.15],[.045,.35],[.055,.25],[.065,.4],[.075,.3],[.085,.55],[.095,.4],[.105,.6],[.115,.45],[.125,.7],[.135,.55],[.145,.8],[.155,.65],[.165,.9],[.175,.7],[.185,1.0],[.195,.8],[.205,1.05],[.215,.85],[.225,1.15],[.235,.9],[.245,1.2],[.255,1.0],[.265,1.3],[.275,1.05],[.285,1.35],[.295,1.1],[.305,1.4],[.315,1.15],[.325,1.5],[.335,1.2],[.345,1.0],[.355,1.55],[.365,1.3],[.375,1.6],[.385,1.35],[.395,1.1],[.405,1.65],[.415,1.4],[.425,1.15],[.435,1.7],[.445,1.4],[.455,1.8],[.465,1.5],[.475,1.2],[.485,1.75],[.495,1.45],[.505,1.85],[.515,1.55],[.525,1.25],[.535,1.8],[.545,1.5],[.555,1.9],[.565,1.55],[.575,1.25],[.585,1.8],[.595,1.5],[.605,1.9],[.615,1.55],[.625,1.2],[.635,1.8],[.645,1.45],[.655,1.85],[.665,1.5],[.675,1.2],[.685,1.75],[.695,1.4],[.705,1.8],[.715,1.45],[.725,1.1],[.735,1.7],[.745,1.35],[.755,1.75],[.765,1.4],[.775,1.05],[.785,1.6],[.795,1.3],[.805,1.7],[.815,1.35],[.825,1.0],[.835,1.55],[.845,1.2],[.855,1.6],[.865,1.25],[.875,.95],[.885,1.45],[.895,1.15],[.905,1.55],[.915,1.2],[.925,.9],[.935,1.4]];

// fitted smooth curve
const fitDomNorth = [[.02,.2],[.1,.55],[.2,.95],[.3,1.3],[.4,1.6],[.5,1.85],[.6,2.0],[.7,2.12],[.8,2.18],[.9,2.15],[.97,2.08]];
const fitIntNorth = [[.0,.12],[.1,.45],[.2,.8],[.3,1.1],[.4,1.38],[.5,1.6],[.6,1.75],[.7,1.85],[.8,1.9],[.9,1.92],[.96,1.9]];
const fitSupNorth = [[.0,.1],[.1,.45],[.2,.8],[.3,1.1],[.4,1.38],[.5,1.55],[.6,1.63],[.7,1.62],[.8,1.57],[.9,1.5],[.94,1.46]];
const fitDomEast = [[.0,.1],[.1,.45],[.2,.85],[.3,1.2],[.4,1.5],[.5,1.75],[.6,1.92],[.7,2.0],[.8,2.02],[.9,1.95],[.98,1.83]];
const fitIntEast = [[.0,.1],[.1,.4],[.2,.75],[.3,1.05],[.4,1.3],[.5,1.5],[.6,1.62],[.7,1.7],[.8,1.72],[.9,1.68],[.95,1.65]];
const fitSupEast = [[.0,.1],[.1,.4],[.2,.75],[.3,1.05],[.4,1.3],[.5,1.45],[.6,1.55],[.7,1.58],[.8,1.57],[.9,1.55],[.96,1.53]];
const fitDomSouth = [[.0,.15],[.1,.5],[.2,.95],[.3,1.35],[.4,1.7],[.5,1.95],[.6,2.15],[.7,2.27],[.8,2.33],[.9,2.35],[.98,2.34]];
const fitIntSouth = [[.0,.12],[.1,.45],[.2,.85],[.3,1.2],[.4,1.5],[.5,1.7],[.6,1.85],[.7,1.92],[.8,1.93],[.9,1.9],[.96,1.88]];
const fitSupSouth = [[.0,.1],[.1,.42],[.2,.78],[.3,1.08],[.4,1.32],[.5,1.5],[.6,1.62],[.7,1.68],[.8,1.7],[.9,1.68],[.95,1.65]];
const fitDomWest = [[.0,.15],[.1,.6],[.2,1.0],[.3,1.4],[.4,1.7],[.5,1.9],[.6,2.05],[.7,2.15],[.8,2.22],[.9,2.27],[.96,2.28]];
const fitIntWest = [[.0,.1],[.1,.45],[.2,.85],[.3,1.2],[.4,1.45],[.5,1.65],[.6,1.8],[.7,1.9],[.8,1.95],[.9,2.0],[.96,2.02]];
const fitSupWest = [[.0,.1],[.1,.45],[.2,.85],[.3,1.15],[.4,1.38],[.5,1.5],[.6,1.53],[.7,1.5],[.8,1.42],[.9,1.3],[.95,1.25]];

const points = [
  [domNorth.concat(domNorthCore), intNorth.concat(intNorthCore), supNorth.concat(supNorthCore)],
  [domEast.concat(domEastCore), intEast.concat(intEastCore), supEast.concat(supEastCore)],
  [domSouth.concat(domSouthCore), intSouth.concat(intSouthCore), supSouth.concat(supSouthCore)],
  [domWest.concat(domWestCore), intWest.concat(intWestCore), supWest.concat(supWestCore)]
];
const fits = [
  [fitDomNorth, fitIntNorth, fitSupNorth],
  [fitDomEast, fitIntEast, fitSupEast],
  [fitDomSouth, fitIntSouth, fitSupSouth],
  [fitDomWest, fitIntWest, fitSupWest]
];

const dims = { w: 550, h: 356 };
const lay = { left: 26, top: 17, pw: 166.2, ph: 75.5, gapX: 3.5, gapY: 4, strip: 16.3 };

const svg = d3
  .select(".canvas")
  .append("svg")
  .attr("width", dims.w)
  .attr("height", dims.h);

const x = d3.scaleLinear().domain([-0.045, 1.045]).range([0, lay.pw]);
const xMinor = [0.125, 0.375, 0.625, 0.875];

const line = d3
  .line()
  .x(d => x(d[0]))
  .curve(d3.curveCatmullRom);

const panelsRight = lay.left + 3 * lay.pw + 2 * lay.gapX;
const panelsBottom = lay.top + 4 * lay.ph + 3 * lay.gapY;

// column strips
colNames.forEach((name, c) => {
  const px = lay.left + c * (lay.pw + lay.gapX);
  svg.append("rect")
    .attr("x", px).attr("y", lay.top - lay.strip)
    .attr("width", lay.pw).attr("height", lay.strip)
    .attr("fill", "#d9d9d9");
  svg.append("text")
    .attr("x", px + lay.pw / 2).attr("y", lay.top - lay.strip / 2)
    .attr("dy", "0.36em")
    .attr("text-anchor", "middle")
    .attr("font-size", 10.5)
    .attr("fill", "#1a1a1a")
    .text(name);
});

rowNames.forEach((rname, r) => {
  const py = lay.top + r * (lay.ph + lay.gapY);
  const y = d3.scaleLinear().domain(yLimits[r]).range([lay.ph, 0]);
  const yMinor = yTicks[r].map(t => t + 0.5).filter(t => t < yLimits[r][1]);
  line.y(d => y(d[1]));

  // row strip
  svg.append("rect")
    .attr("x", panelsRight + 1).attr("y", py)
    .attr("width", lay.strip).attr("height", lay.ph)
    .attr("fill", "#d9d9d9");
  svg.append("text")
    .attr("transform", `translate(${panelsRight + 1 + lay.strip / 2}, ${py + lay.ph / 2}) rotate(90)`)
    .attr("dy", "0.36em")
    .attr("text-anchor", "middle")
    .attr("font-size", 10.5)
    .attr("fill", "#1a1a1a")
    .text(rname);

  colNames.forEach((cname, c) => {
    const px = lay.left + c * (lay.pw + lay.gapX);
    const g = svg.append("g").attr("transform", `translate(${px}, ${py})`);

    g.append("rect")
      .attr("width", lay.pw).attr("height", lay.ph)
      .attr("fill", "#ebebeb");

    g.selectAll(".minx").data(xMinor).enter().append("line")
      .attr("x1", d => x(d)).attr("x2", d => x(d))
      .attr("y1", 0).attr("y2", lay.ph)
      .attr("stroke", "#fff").attr("stroke-width", 0.5);
    g.selectAll(".miny").data(yMinor).enter().append("line")
      .attr("x1", 0).attr("x2", lay.pw)
      .attr("y1", d => y(d)).attr("y2", d => y(d))
      .attr("stroke", "#fff").attr("stroke-width", 0.5);
    g.selectAll(".majx").data(xTicks).enter().append("line")
      .attr("x1", d => x(d)).attr("x2", d => x(d))
      .attr("y1", 0).attr("y2", lay.ph)
      .attr("stroke", "#fff").attr("stroke-width", 1);
    g.selectAll(".majy").data(yTicks[r]).enter().append("line")
      .attr("x1", 0).attr("x2", lay.pw)
      .attr("y1", d => y(d)).attr("y2", d => y(d))
      .attr("stroke", "#fff").attr("stroke-width", 1);

    g.selectAll("circle")
      .data(points[r][c])
      .enter()
      .append("circle")
      .attr("cx", d => x(d[0]))
      .attr("cy", d => y(d[1]))
      .attr("r", 1.6)
      .attr("fill", "#000");

    g.append("path")
      .attr("d", line(fits[r][c]))
      .attr("fill", "none")
      .attr("stroke", "#000")
      .attr("stroke-width", 1.7);

    if (c === 0) {
      const ax = g.append("g")
        .call(d3.axisLeft(y).tickValues(yTicks[r]).tickSize(2.7).tickPadding(1.8).tickFormat(d3.format("d")));
      ax.select(".domain").remove();
      ax.selectAll("line").attr("stroke", "#333");
      ax.selectAll("text").attr("fill", "#4d4d4d").attr("font-size", 8.4).attr("font-family", "Liberation Sans, Arial, sans-serif");
    }
    if (r === 3) {
      const ax = g.append("g")
        .attr("transform", `translate(0, ${lay.ph})`)
        .call(d3.axisBottom(x).tickValues(xTicks).tickSize(2.7).tickPadding(1.8).tickFormat(d3.format(".2f")));
      ax.select(".domain").remove();
      ax.selectAll("line").attr("stroke", "#333");
      ax.selectAll("text").attr("fill", "#4d4d4d").attr("font-size", 8.8).attr("font-family", "Liberation Sans, Arial, sans-serif");
    }
  });
});

svg.append("text")
  .attr("x", (lay.left + panelsRight) / 2)
  .attr("y", 354)
  .attr("text-anchor", "middle")
  .attr("font-size", 12.5)
  .attr("font-style", "italic")
  .text("RDINC");

svg.append("text")
  .attr("transform", `translate(12.5, ${(lay.top + panelsBottom) / 2}) rotate(-90)`)
  .attr("text-anchor", "middle")
  .attr("font-size", 12.5)
  .text("Crown radius (m)");
</script>
</body>
</html>
